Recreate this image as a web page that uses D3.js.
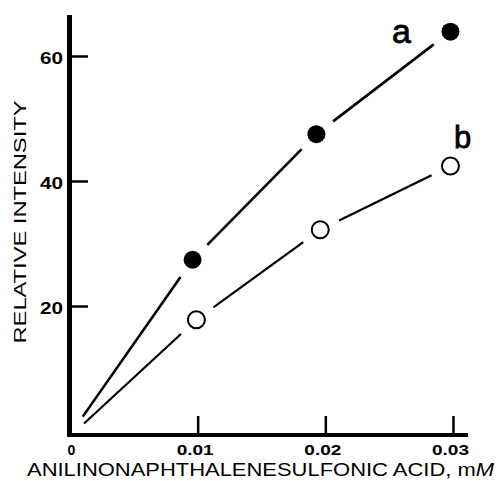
<!DOCTYPE html>
<html><head><meta charset="utf-8">
<script src="https://cdn.jsdelivr.net/npm/d3@7"></script>
<style>
html,body{margin:0;padding:0;background:#fff;}
svg{display:block;}
text{font-family:"Liberation Sans",Arial,Helvetica,sans-serif;fill:#000;}
</style></head>
<body>
<script>
// ---- data ----
const xTickValues = [0, 0.01, 0.02, 0.03];
const xTickLabels = ["0", "0.01", "0.02", "0.03"];
const yTickValues = [20, 40, 60];
const yTickLabels = ["20", "40", "60"];

// curve a (filled circles)
const aStart = [0.001, 2.3];
const aConc = [0.0096, 0.0193, 0.0298];
const aValues = [27.4, 47.5, 63.9];
// curve b (open circles)
const bStart = [0.0011, 1.2];
const bConc = [0.0099, 0.0196, 0.0298];
const bValues = [17.8, 32.2, 42.4];

const xTitle = "ANILINONAPHTHALENESULFONIC ACID, m";
const xTitleUnit = "M";
const yTitle = "RELATIVE INTENSITY";

// ---- layout ----
const W = 501, H = 481;
const svg = d3.select("body").append("svg").attr("width", W).attr("height", H);

const x = d3.scaleLinear().domain([0, 0.03]).range([70, 453]);
const y = d3.scaleLinear().domain([0, 60]).range([431, 56]);
const xMax = x.invert(468);
const yMax = y.invert(15);

// axes lines
const axisY0 = y(0) + 4;
svg.append("line").attr("x1", 69.5).attr("x2", 69.5).attr("y1", y(yMax)).attr("y2", axisY0 + 2)
  .attr("stroke", "#000").attr("stroke-width", 5);
svg.append("line").attr("x1", 67).attr("x2", x(xMax)).attr("y1", axisY0).attr("y2", axisY0)
  .attr("stroke", "#000").attr("stroke-width", 4);

// x axis ticks
const xAxis = d3.axisBottom(x).tickValues(xTickValues)
  .tickFormat((d, i) => xTickLabels[i]).tickSize(-18).tickPadding(10);
const gx = svg.append("g").attr("transform", `translate(0,${axisY0})`).call(xAxis);
gx.select(".domain").remove();
gx.selectAll(".tick line").attr("stroke", "#000").attr("stroke-width", 2.5)
  .attr("transform", "translate(0,-1)")
  .attr("display", d => d === 0 ? "none" : null);
gx.selectAll(".tick text").attr("font-size", 14).attr("font-weight", "bold")
  .attr("font-family", "'Liberation Sans',Arial,sans-serif")
  .attr("textLength", d => d === 0 ? null : 37).attr("lengthAdjust", "spacingAndGlyphs")
  .attr("dx", d => d === 0 ? 1 : -3).attr("fill", "#000");

// y axis ticks
const yAxis = d3.axisLeft(y).tickValues(yTickValues)
  .tickFormat((d, i) => yTickLabels[i]).tickSize(-17).tickPadding(8);
const gy = svg.append("g").attr("transform", "translate(71,0)").call(yAxis);
gy.select(".domain").remove();
gy.selectAll(".tick line").attr("stroke", "#000").attr("stroke-width", 2.5);
gy.selectAll(".tick text").attr("font-size", 16).attr("font-weight", "bold")
  .attr("font-family", "'Liberation Sans',Arial,sans-serif")
  .attr("textLength", 23).attr("lengthAdjust", "spacingAndGlyphs")
  .attr("dy", "0.45em").attr("fill", "#000");

// titles
const xt = svg.append("text").attr("x", 27).attr("y", 476)
  .attr("font-size", 18.5).attr("textLength", 467).attr("lengthAdjust", "spacingAndGlyphs");
xt.append("tspan").text(xTitle);
xt.append("tspan").attr("font-style", "italic").text(xTitleUnit);

svg.append("text").attr("transform", "translate(26,222) rotate(-90)")
  .attr("text-anchor", "middle").attr("font-size", 16.5)
  .attr("textLength", 243).attr("lengthAdjust", "spacingAndGlyphs")
  .text(yTitle);

// series drawing with gaps around markers
const GAP = 21;
function drawSeries(start, xs, ys, sw, filled) {
  const pts = [{px: x(start[0]), py: y(start[1]), m: false}]
    .concat(xs.map((v, i) => ({px: x(v), py: y(ys[i]), m: true})));
  const segs = [];
  for (let i = 0; i < pts.length - 1; i++) {
    const p = pts[i], q = pts[i + 1];
    const dx = q.px - p.px, dy = q.py - p.py, L = Math.hypot(dx, dy);
    const ux = dx / L, uy = dy / L;
    const s0 = p.m ? GAP : 0, s1 = q.m ? GAP : 0;
    segs.push([p.px + ux * s0, p.py + uy * s0, q.px - ux * s1, q.py - uy * s1]);
  }
  const g = svg.append("g");
  g.selectAll("line").data(segs).join("line")
    .attr("x1", d => d[0]).attr("y1", d => d[1]).attr("x2", d => d[2]).attr("y2", d => d[3])
    .attr("stroke", "#000").attr("stroke-width", sw);
  g.selectAll("circle").data(pts.filter(p => p.m)).join("circle")
    .attr("cx", d => d.px).attr("cy", d => d.py)
    .attr("r", filled ? 9 : 8.5)
    .attr("fill", filled ? "#000" : "#fff")
    .attr("stroke", "#000").attr("stroke-width", filled ? 0 : 2);
}
drawSeries(aStart, aConc, aValues, 2.6, true);
drawSeries(bStart, bConc, bValues, 2.2, false);

// curve labels
svg.append("text").attr("x", 392).attr("y", 42.5).attr("font-size", 34)
  .attr("stroke", "#000").attr("stroke-width", 0.8).text("a");
svg.append("text").attr("x", 454).attr("y", 148).attr("font-size", 31)
  .attr("stroke", "#000").attr("stroke-width", 0.8).text("b");
</script>
</body></html>
